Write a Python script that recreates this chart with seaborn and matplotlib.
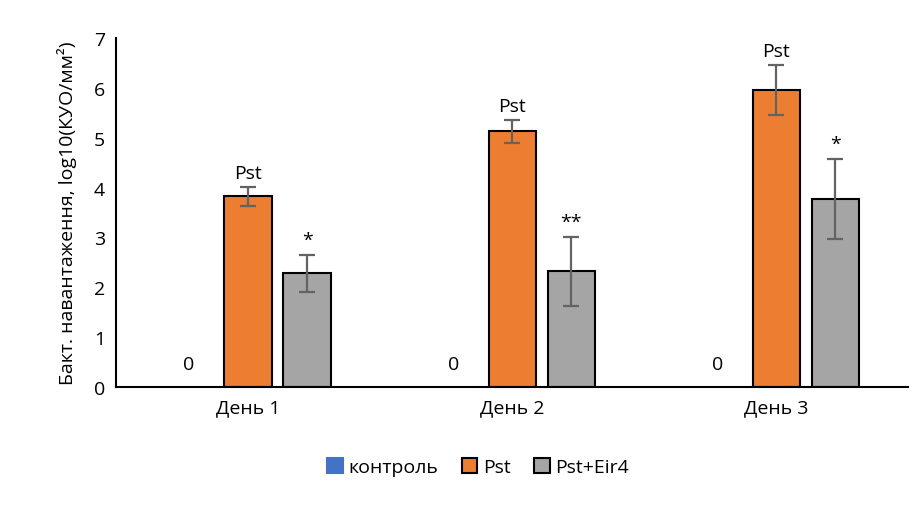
import matplotlib
matplotlib.use("Agg")
import matplotlib.pyplot as plt
from matplotlib.patches import Patch
import seaborn as sns
import pandas as pd

days = ["День 1", "День 2", "День 3"]
groups = ["контроль", "Pst", "Pst+Eir4"]
control = [0, 0, 0]
pst = [3.83, 5.13, 5.95]
pst_err = [0.19, 0.23, 0.50]
eir = [2.28, 2.32, 3.77]
eir_err = [0.37, 0.69, 0.80]
eir_marks = ["*", "**", "*"]
pst_marks = ["Pst", "Pst", "Pst"]
colors = ["#4472C4", "#ED7D31", "#A5A5A5"]

sns.set_style("white")
plt.rcParams['font.family'] = ['Open Sans', 'DejaVu Sans']
plt.rcParams['text.color'] = 'black'
plt.rcParams['xtick.color'] = 'black'
plt.rcParams['ytick.color'] = 'black'
plt.rcParams['axes.labelcolor'] = 'black'

rows = []
for d, c, p, e in zip(days, control, pst, eir):
    rows += [(d, groups[0], c), (d, groups[1], p), (d, groups[2], e)]
df = pd.DataFrame(rows, columns=["day", "group", "value"])

fig = plt.figure(figsize=(9.23, 5.06), dpi=100)
ax = fig.add_axes([0.1257, 0.2332, 0.8583, 0.6897])
sns.barplot(data=df, x="day", y="value", hue="group", order=days, hue_order=groups,
            palette=colors, saturation=1, width=0.67, gap=0.2, edgecolor="black",
            linewidth=1.5, errorbar=None, legend=False, ax=ax)

cont_c, pst_c, eir_c = ax.containers[0], ax.containers[1], ax.containers[2]
for bar in cont_c:
    bar.set_linewidth(0)

def centers(cont):
    return [b.get_x() + b.get_width() / 2 for b in cont]

xc, xp, xe = centers(cont_c), centers(pst_c), centers(eir_c)
ax.errorbar(xp, pst, yerr=pst_err, fmt="none", ecolor="#636363", elinewidth=1.6,
            capsize=6, capthick=1.6, zorder=5)
ax.errorbar(xe, eir, yerr=eir_err, fmt="none", ecolor="#636363", elinewidth=1.6,
            capsize=6, capthick=1.6, zorder=5)

fs = 14
for x, v, e, m in zip(xp, pst, pst_err, pst_marks):
    ax.text(x, v + e + 0.1, m, ha="center", va="bottom", fontsize=fs)
for x, v, e, m in zip(xe, eir, eir_err, eir_marks):
    ax.text(x, v + e + 0.12, m, ha="center", va="bottom", fontsize=fs)
for x, v in zip(xc, control):
    ax.text(x, v + 0.28, "0", ha="center", va="bottom", fontsize=fs)

ax.set_xlim(-0.5, 2.5)
ax.set_ylim(0, 7)
ax.set_yticks(range(0, 8))
ax.tick_params(axis="both", labelsize=fs, length=0, pad=8)
ax.set_xlabel("")
ax.set_ylabel("Бакт. навантаження, log10(КУО/мм²)", fontsize=fs, labelpad=12)
for s in ["top", "right"]:
    ax.spines[s].set_visible(False)
for s in ["left", "bottom"]:
    ax.spines[s].set_color("black")
    ax.spines[s].set_linewidth(1.5)

handles = [Patch(facecolor=colors[0], edgecolor=colors[0], linewidth=1.5),
           Patch(facecolor=colors[1], edgecolor="black", linewidth=1.5),
           Patch(facecolor=colors[2], edgecolor="black", linewidth=1.5)]
fig.legend(handles, groups, loc="center", bbox_to_anchor=(0.518, 0.075), ncol=3,
           frameon=False, fontsize=fs, handlelength=0.8, handleheight=0.8,
           handletextpad=0.3, columnspacing=1.2)

fig.savefig("out.png", dpi=100)
